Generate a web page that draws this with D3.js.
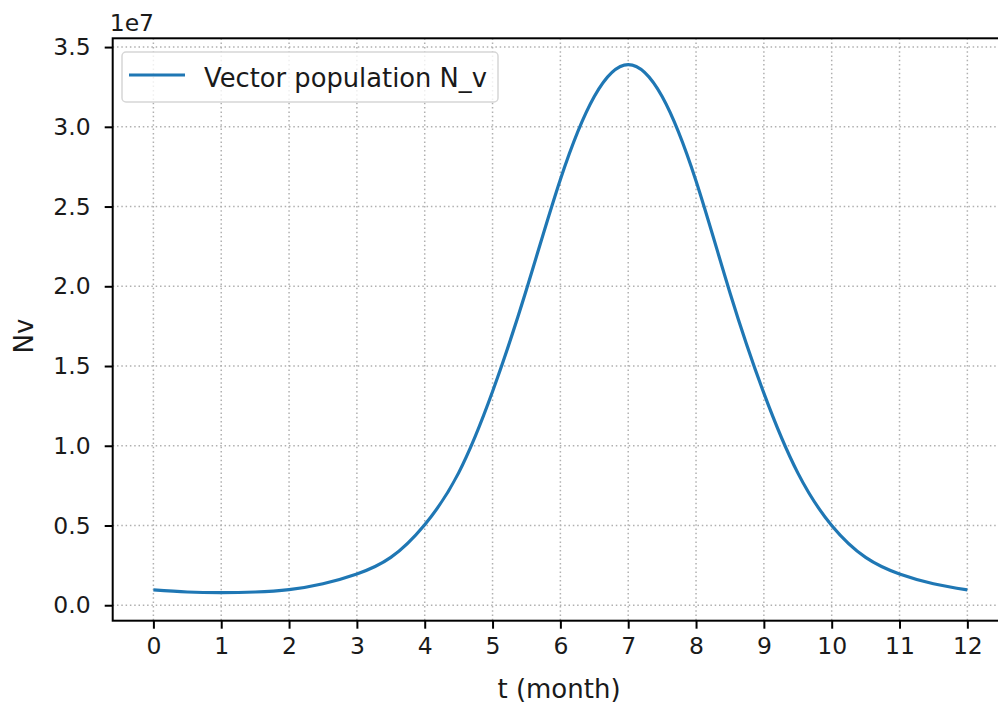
<!DOCTYPE html>
<html>
<head>
<meta charset="utf-8">
<script src="https://cdn.jsdelivr.net/npm/d3@7"></script>
<style>
  html, body { margin: 0; padding: 0; background: #fff; }
  svg { display: block; font-family: "DejaVu Sans", sans-serif; }
</style>
</head>
<body>
<svg id="chart" width="998" height="709"></svg>
<script>
// Data (values in units of 1e7)
const months = [0, 0.5, 1, 1.5, 2, 2.5, 3, 3.5, 4, 4.5, 5, 5.5, 6, 6.5, 7, 7.5, 8, 8.5, 9, 9.5, 10, 10.5, 11, 11.5, 12];
const nv = [0.096, 0.083, 0.079, 0.083, 0.098, 0.135, 0.196, 0.300, 0.505, 0.83, 1.34, 1.98, 2.67, 3.19, 3.39, 3.19, 2.66, 1.96, 1.33, 0.83, 0.50, 0.300, 0.196, 0.135, 0.096];
const xTicks = [0, 1, 2, 3, 4, 5, 6, 7, 8, 9, 10, 11, 12];
const yTicks = [0.0, 0.5, 1.0, 1.5, 2.0, 2.5, 3.0, 3.5];
const seriesName = "Vector population N_v";
const xLabel = "t (month)";
const yLabel = "Nv";
const multiplier = "1e7";
const xLimits = [-0.6, 12.6];
const yLimits = [-0.097, 3.555];

(function () {
const svg = d3.select("#chart");
const pL = 112.7, pT = 38.3, pB = 620.7;
const unitX = 67.83;
const pR = pL + (xLimits[1] - xLimits[0]) * unitX;

const x = d3.scaleLinear().domain(xLimits).range([pL, pR]);
const y = d3.scaleLinear().domain(yLimits).range([pB, pT]);

const FS = 23.5;
const FL = 26;
const txt = "#1a1a1a";
const gridColor = "#b0b0b0";

// Grid
const grid = svg.append("g");
grid.selectAll("line.gx").data(xTicks).enter().append("line")
  .attr("x1", d => x(d)).attr("x2", d => x(d))
  .attr("y1", pT).attr("y2", pB)
  .attr("stroke", gridColor).attr("stroke-width", 1.5)
  .attr("stroke-dasharray", "1.5,2.8");
grid.selectAll("line.gy").data(yTicks).enter().append("line")
  .attr("x1", pL).attr("x2", pR)
  .attr("y1", d => y(d)).attr("y2", d => y(d))
  .attr("stroke", gridColor).attr("stroke-width", 1.5)
  .attr("stroke-dasharray", "1.5,2.8");

// Line
const data = months.map((m, i) => [m, nv[i]]);
svg.append("path")
  .datum(data)
  .attr("fill", "none")
  .attr("stroke", "#1f77b4")
  .attr("stroke-width", 3.2)
  .attr("stroke-linejoin", "round")
  .attr("d", d3.line().x(d => x(d[0])).y(d => y(d[1])).curve(d3.curveNatural));

// Axes
const xAxis = d3.axisBottom(x).tickValues(xTicks).tickFormat(d3.format("d")).tickSize(8).tickPadding(9);
const gx = svg.append("g").attr("transform", `translate(0,${pB})`).call(xAxis);
gx.select(".domain").remove();
gx.selectAll(".tick line").attr("stroke", "#000").attr("stroke-width", 2);
gx.selectAll(".tick text").attr("font-size", FS).attr("font-family", "DejaVu Sans").attr("fill", txt);

const yAxis = d3.axisLeft(y).tickValues(yTicks).tickFormat(d3.format(".1f")).tickSize(8).tickPadding(14);
const gy = svg.append("g").attr("transform", `translate(${pL},0)`).call(yAxis);
gy.select(".domain").remove();
gy.selectAll(".tick line").attr("stroke", "#000").attr("stroke-width", 2);
gy.selectAll(".tick text").attr("font-size", FS).attr("font-family", "DejaVu Sans").attr("fill", txt);

// Spines
svg.append("rect")
  .attr("x", pL).attr("y", pT)
  .attr("width", pR - pL).attr("height", pB - pT)
  .attr("fill", "none").attr("stroke", "#000").attr("stroke-width", 2);

// Labels
svg.append("text").attr("x", 559).attr("y", 698)
  .attr("text-anchor", "middle").attr("font-size", FL).attr("fill", txt).text(xLabel);
svg.append("text")
  .attr("transform", `translate(33,336) rotate(-90)`)
  .attr("text-anchor", "middle").attr("font-size", FL).attr("fill", txt).text(yLabel);
svg.append("text").attr("x", pL - 3).attr("y", 31)
  .attr("font-size", FS).attr("fill", txt).text(multiplier);

// Legend
const lg = svg.append("g");
lg.append("rect").attr("x", 122).attr("y", 52).attr("width", 376).attr("height", 50)
  .attr("rx", 4).attr("fill", "#fff").attr("fill-opacity", 0.8)
  .attr("stroke", "#d6d6d6").attr("stroke-width", 1.5);
lg.append("line").attr("x1", 129).attr("x2", 185).attr("y1", 75).attr("y2", 75)
  .attr("stroke", "#1f77b4").attr("stroke-width", 3.2);
lg.append("text").attr("x", 204).attr("y", 87).attr("font-size", FL).attr("fill", txt)
  .attr("textLength", 283).attr("lengthAdjust", "spacingAndGlyphs").text(seriesName);
})();
</script>
</body>
</html>
